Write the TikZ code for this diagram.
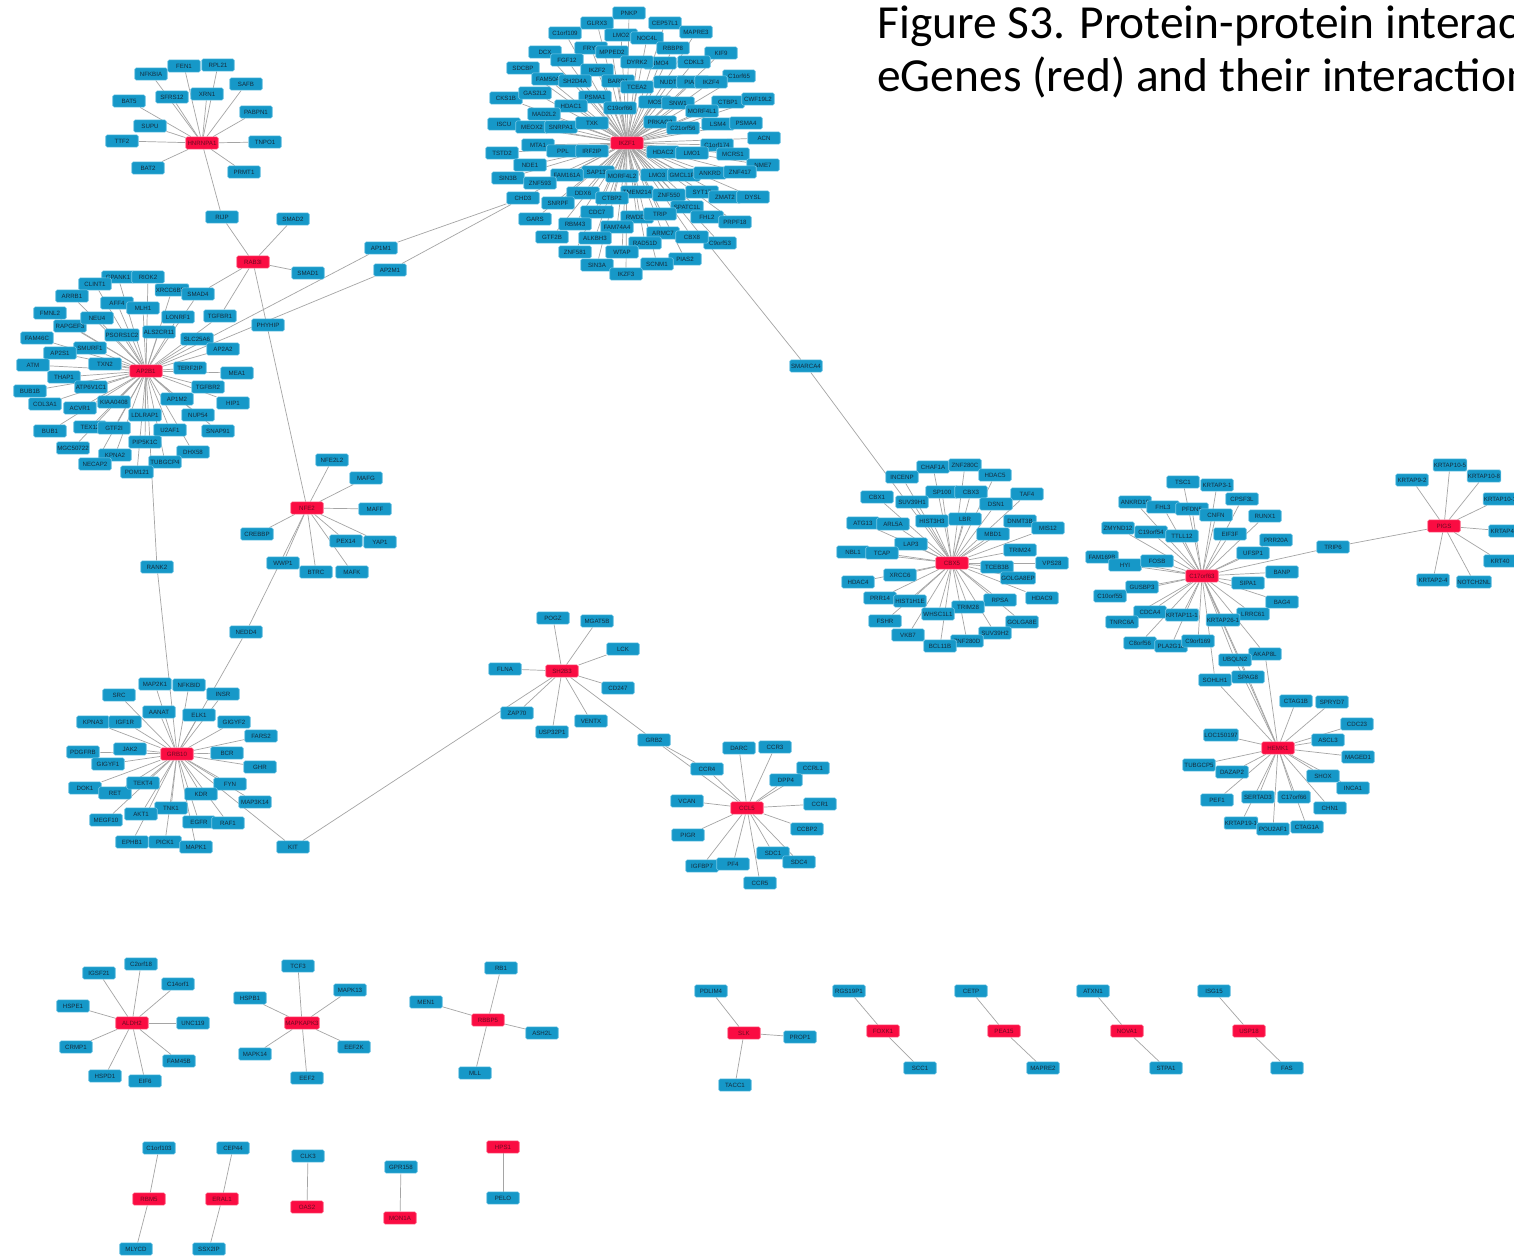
\documentclass[tikz,border=0pt]{standalone}
\usepackage{fontspec}
\setmainfont{Liberation Sans}
\newfontfamily\titlefont{Carlito}
\usetikzlibrary{backgrounds}
\pgfdeclarelayer{paper}
\pgfsetlayers{paper,background,main}

\definecolor{nodeblue}{RGB}{22,152,200}
\definecolor{nodered}{RGB}{250,12,66}
\definecolor{bluerim}{RGB}{120,200,230}
\definecolor{redrim}{RGB}{255,120,150}
\definecolor{bluetext}{RGB}{20,45,62}
\definecolor{redtext}{RGB}{110,10,35}
\definecolor{edgegray}{RGB}{165,165,165}

\tikzset{
  gene/.style={rectangle, rounded corners=0.8pt, minimum width=18.5pt,
    minimum height=7pt, inner sep=0.4pt, line width=0.35pt,
    font=\fontsize{3.5}{3.7}\selectfont},
  bbox/.style={gene, fill=nodeblue, draw=bluerim, text=bluetext},
  rbox/.style={gene, fill=nodered, draw=redrim, text=redtext},
  link/.style={draw=edgegray, line width=0.4pt},
  titletext/.style={anchor=base west, inner sep=0, font=\titlefont\fontsize{27}{31}\selectfont},
}

% blue and red gene boxes, named after their label
\newcommand\gnb[2]{\node[bbox] (#2) at (#1) {#2};}
\newcommand\gnr[2]{\node[rbox] (#2) at (#1) {#2};}
% star of edges from a hub
\newcommand\spokes[2]{\foreach \t in {#2} {\draw[link] (#1) -- (\t);}}

\begin{document}
\begin{tikzpicture}[x=0.02cm,y=-0.02cm]
\useasboundingbox (0,0) rectangle (1514,1258);
\begin{pgfonlayer}{paper}
\fill[white] (0,0) rectangle (1514,1258);
\end{pgfonlayer}

% title
\node[titletext] (t1) at (877,38) {Figure S3. Protein-protein interactions};
\node[titletext] (t2) at (877,91) {eGenes (red) and their interactions};

% HNRNPA1
\gnr{202,143}{HNRNPA1}
\gnb{184,66}{FEN1} \gnb{218,65}{RPL21} \gnb{151,74}{NFKBIA} \gnb{246,84}{SAFB}
\gnb{207,94}{XRN1} \gnb{172,97}{SFRS12} \gnb{129,101}{BAT5} \gnb{256,112}{PABPN1}
\gnb{150,126}{SUPU} \gnb{122,141}{TTF2} \gnb{265,142}{TNPO1} \gnb{148,168}{BAT2}
\gnb{244,172}{PRMT1} \gnb{222,217}{RIJP}

% RAB3I
\gnr{253,262}{RAB3I}
\gnb{293,219}{SMAD2} \gnb{308,273}{SMAD1} \gnb{381,248}{AP1M1} \gnb{390,270}{AP2M1}
\gnb{268,325}{PHYHIP}

% AP2B1
\gnr{146,371}{AP2B1}
\gnb{118,277}{GPANK1} \gnb{148,277}{RIOK2} \gnb{95,284}{CLINT1} \gnb{172,290}{XRCC6BP1}
\gnb{198,294}{SMAD4} \gnb{72,296}{ARRB1} \gnb{117,303}{AFF4} \gnb{143,308}{MLH1}
\gnb{50,313}{FMNL2} \gnb{178,317}{LONRF1} \gnb{220,316}{TGFBR1} \gnb{70,326}{RAPGEF3}
\gnb{97,318}{NEU4} \gnb{122,335}{PSORS1C2} \gnb{159,332}{ALS2CR11} \gnb{37,338}{FAM46C}
\gnb{90,348}{SMURF1} \gnb{197,339}{SLC25A6} \gnb{223,349}{AP2A2} \gnb{60,353}{AP2S1}
\gnb{33,365}{ATM} \gnb{105,364}{TXN2} \gnb{190,368}{TERF2IP} \gnb{237,373}{MEA1}
\gnb{64,377}{THAP1} \gnb{91,387}{ATP6V1C1} \gnb{208,387}{TGFBR2} \gnb{30,391}{BUB1B}
\gnb{45,404}{COL3A1} \gnb{80,408}{ACVR1} \gnb{114,402}{KIAA0408} \gnb{177,399}{AP1M2}
\gnb{233,403}{HIP1} \gnb{145,415}{LDLRAP1} \gnb{198,415}{NUP54} \gnb{90,427}{TEX12}
\gnb{50,431}{BUB1} \gnb{114,428}{GTF2I} \gnb{170,430}{U2AF1} \gnb{218,431}{SNAP91}
\gnb{145,442}{PIP5K1C} \gnb{73,448}{MGC50722} \gnb{193,452}{DHX58} \gnb{115,455}{KPNA2}
\gnb{165,462}{TUBGCP4} \gnb{95,464}{NECAP2} \gnb{137,472}{POM121}
\gnb{157,567}{RANK2}

% IKZF1
\gnr{627,143}{IKZF1}
\gnb{629,13}{PNKP} \gnb{597,23}{GLRX3} \gnb{665,23}{CEP57L1} \gnb{696,32}{MAPRE3}
\gnb{565,33}{C1orf109} \gnb{621,35}{LMO2} \gnb{647,38}{NOC4L} \gnb{591,48}{FRYL}
\gnb{673,48}{RBBP8} \gnb{612,52}{MPPED2} \gnb{721,53}{KIF9} \gnb{545,52}{DCX}
\gnb{567,60}{FGF12} \gnb{660,63}{NMO4} \gnb{637,62}{DYRK2} \gnb{694,62}{CDKL3}
\gnb{523,68}{SDCBP} \gnb{597,70}{IKZF2} \gnb{739,76}{C1orf65} \gnb{548,79}{FAM50A}
\gnb{575,81}{SH2D4A} \gnb{618,81}{BARD1} \gnb{670,82}{NUDT9} \gnb{693,82}{PIAS1}
\gnb{711,82}{IKZF4} \gnb{637,87}{TCEA2} \gnb{506,98}{CKS1B} \gnb{535,93}{GAS2L2}
\gnb{595,97}{PSMA1} \gnb{571,106}{HDAC1} \gnb{655,102}{MOS} \gnb{678,103}{SNW1}
\gnb{728,102}{CTBP1} \gnb{758,99}{CWF19L2} \gnb{544,114}{MAD2L2} \gnb{620,108}{C19orf66}
\gnb{702,111}{MORF4L1} \gnb{504,124}{ISCU} \gnb{532,127}{MEOX2} \gnb{561,127}{SNRPA1}
\gnb{592,123}{TXK} \gnb{660,122}{PRKAG2} \gnb{683,128}{C21orf56} \gnb{718,124}{LSM4}
\gnb{746,123}{PSMA4} \gnb{764,138}{ACN}
\gnb{538,145}{MTA1} \gnb{502,153}{TSTD2} \gnb{563,151}{PPL} \gnb{592,151}{IRF2IP}
\gnb{663,152}{HDAC2} \gnb{717,145}{C1orf174} \gnb{692,153}{LMO1} \gnb{733,154}{MCRS1}
\gnb{530,165}{NDE1} \gnb{763,165}{NME7} \gnb{598,172}{SAP130} \gnb{567,175}{FAM161A}
\gnb{622,176}{MORF4L2} \gnb{657,175}{LMO3} \gnb{684,175}{GMCL1P1} \gnb{710,173}{ANKRD}
\gnb{740,172}{ZNF417} \gnb{508,178}{SIN3B} \gnb{540,183}{ZNF593} \gnb{523,198}{CHD3}
\gnb{583,193}{DDX6} \gnb{637,192}{TMEM214} \gnb{612,198}{CTBP2} \gnb{669,195}{ZNF550}
\gnb{702,192}{SYT17} \gnb{725,197}{ZMAT2} \gnb{753,197}{DYSL} \gnb{558,203}{SNRPF}
\gnb{687,207}{SPATC1L} \gnb{597,212}{CDC7} \gnb{637,217}{RWDD1} \gnb{660,214}{TRIP}
\gnb{707,217}{FHL2} \gnb{735,222}{PRPF18} \gnb{535,219}{GARS} \gnb{575,224}{RBM43}
\gnb{617,227}{FAM74A4} \gnb{720,243}{C9orf53} \gnb{663,233}{ARMC7} \gnb{692,237}{CBX8}
\gnb{552,237}{GTF2B} \gnb{595,238}{ALKBH3} \gnb{645,243}{RAD51D} \gnb{575,252}{ZNF581}
\gnb{622,252}{WTAP} \gnb{685,259}{PIAS2} \gnb{597,265}{SIN3A} \gnb{657,264}{SCNM1}
\gnb{626,274}{IKZF3}
\gnb{806,366}{SMARCA4}

% NFE2
\gnr{307,508}{NFE2}
\gnb{332,460}{NFE2L2} \gnb{366,478}{MAFG} \gnb{375,509}{MAFF} \gnb{257,534}{CREBBP}
\gnb{346,541}{PEX14} \gnb{380,542}{YAP1} \gnb{283,563}{WWP1} \gnb{316,572}{BTRC}
\gnb{352,572}{MAFK} \gnb{246,632}{NEDD4}

% GRB10
\gnr{177,754}{GRB10}
\gnb{155,684}{MAP2K1} \gnb{189,685}{NFKBID} \gnb{119,695}{SRC} \gnb{223,694}{INSR}
\gnb{159,712}{AANAT} \gnb{199,715}{ELK1} \gnb{93,722}{KPNA3} \gnb{125,722}{IGF1R}
\gnb{234,722}{GIGYF2} \gnb{261,736}{FARS2} \gnb{130,749}{JAK2} \gnb{83,752}{PDGFRB}
\gnb{227,753}{BCR} \gnb{108,764}{GIGYF1} \gnb{260,767}{GHR} \gnb{85,788}{DOK1}
\gnb{115,793}{RET} \gnb{143,783}{TEKT4} \gnb{230,784}{FYN} \gnb{201,794}{KDR}
\gnb{255,802}{MAP3K14} \gnb{171,808}{TNK1} \gnb{141,814}{AKT1} \gnb{106,820}{MEGF10}
\gnb{199,822}{EGFR} \gnb{228,823}{RAF1} \gnb{132,842}{EPHB1} \gnb{165,842}{PICK1}
\gnb{196,847}{MAPK1} \gnb{293,847}{KIT}

% SH2B3
\gnr{562,671}{SH2B3}
\gnb{553,618}{POGZ} \gnb{597,621}{MGAT5B} \gnb{623,649}{LCK} \gnb{505,669}{FLNA}
\gnb{618,688}{CD247} \gnb{517,713}{ZAP70} \gnb{591,721}{VENTX} \gnb{552,732}{USP32P1}
\gnb{654,740}{GRB2}

% CCL5
\gnr{747,808}{CCL5}
\gnb{739,748}{DARC} \gnb{775,747}{CCR3} \gnb{813,768}{CCRL1} \gnb{707,769}{CCR4}
\gnb{786,780}{DPP4} \gnb{687,801}{VCAN} \gnb{820,804}{CCR1} \gnb{807,829}{CCBP2}
\gnb{688,835}{PIGR} \gnb{773,853}{SDC1} \gnb{799,862}{SDC4} \gnb{702,866}{IGFBP7}
\gnb{733,864}{PF4} \gnb{760,883}{CCR5}

% CBX5
\gnr{952,563}{CBX5}
\gnb{933,467}{CHAF1A} \gnb{965,465}{ZNF280C} \gnb{902,477}{INCENP} \gnb{995,475}{HDAC5}
\gnb{877,497}{CBX1} \gnb{942,492}{SP100} \gnb{971,492}{CBX3} \gnb{912,502}{SUV39H1}
\gnb{1027,494}{TAF4} \gnb{996,504}{DSN1} \gnb{863,523}{ATG13} \gnb{893,524}{ARL5A}
\gnb{932,521}{HIST3H3} \gnb{965,519}{LBR} \gnb{1020,521}{DNMT3B} \gnb{1048,528}{MIS12}
\gnb{993,534}{MBD1} \gnb{911,544}{LAP3} \gnb{1020,550}{TRIM24} \gnb{853,552}{NBL1}
\gnb{882,553}{TCAP} \gnb{997,567}{TCEB3B} \gnb{1052,563}{VPS28} \gnb{900,575}{XRCC6}
\gnb{1018,578}{GOLGA8EP} \gnb{858,582}{HDAC4} \gnb{880,598}{PRR14} \gnb{910,601}{HIST1H1E}
\gnb{1000,600}{RPSA} \gnb{1042,598}{HDAC9} \gnb{968,607}{TRIM28} \gnb{938,614}{WHSC1L1}
\gnb{885,621}{FSHR} \gnb{1022,622}{GOLGA8E} \gnb{995,633}{SUV39H2} \gnb{908,635}{VKB7}
\gnb{967,641}{ZNF280D} \gnb{940,646}{BCL11B}

% C17orf63
\gnr{1202,576}{C17orf63}
\gnb{1183,482}{TSC1} \gnb{1217,485}{KRTAP3-1} \gnb{1242,499}{CPSF3L} \gnb{1135,502}{ANKRD10}
\gnb{1163,507}{FHL3} \gnb{1192,509}{PFDN5} \gnb{1216,515}{CNFN} \gnb{1265,516}{RUNX1}
\gnb{1118,528}{ZMYND12} \gnb{1151,532}{C19orf54} \gnb{1182,536}{TTLL12} \gnb{1230,534}{EIF3F}
\gnb{1276,540}{PRR20A} \gnb{1253,553}{UFSP1} \gnb{1102,557}{FAM169B} \gnb{1125,565}{HYI}
\gnb{1157,561}{FOSB} \gnb{1282,572}{BANP} \gnb{1248,583}{SIPA1} \gnb{1142,587}{GUSBP3}
\gnb{1110,596}{C10orf55} \gnb{1282,602}{BAG4} \gnb{1150,612}{CDCA4} \gnb{1253,614}{LRRC61}
\gnb{1122,622}{TNRC6A} \gnb{1182,615}{KRTAP11-1} \gnb{1223,620}{KRTAP26-1} \gnb{1140,643}{C8orf56}
\gnb{1171,646}{PLA2G16} \gnb{1198,641}{C9orf169} \gnb{1265,654}{AKAP8L} \gnb{1235,660}{UBQLN2}
\gnb{1215,680}{SOHLH1} \gnb{1248,677}{SPAG8}
\gnb{1333,547}{TRIP6}

% PIGS
\gnr{1444,526}{PIGS}
\gnb{1412,480}{KRTAP9-2} \gnb{1450,465}{KRTAP10-5} \gnb{1484,476}{KRTAP10-8}
\gnb{1500,499}{KRTAP10-1} \gnb{1505,531}{KRTAP4-1} \gnb{1500,561}{KRT40}
\gnb{1433,580}{KRTAP2-4} \gnb{1474,582}{NOTCH2NL}

% HEMK1
\gnr{1278,748}{HEMK1}
\gnb{1296,701}{CTAG1B} \gnb{1332,702}{SPRYD7} \gnb{1357,724}{CDC23} \gnb{1221,735}{LOC150197}
\gnb{1328,740}{ASCL3} \gnb{1358,757}{MAGED1} \gnb{1199,765}{TUBGCP5} \gnb{1232,772}{DAZAP2}
\gnb{1323,776}{SHOX} \gnb{1353,788}{INCA1} \gnb{1217,800}{PEF1} \gnb{1258,797}{SERTAD3}
\gnb{1294,797}{C17orf66} \gnb{1330,808}{CHN1} \gnb{1241,823}{KRTAP19-1} \gnb{1273,829}{POU2AF1}
\gnb{1307,827}{CTAG1A}

% ALDH2
\gnr{132,1023}{ALDH2}
\gnb{141,964}{C2orf18} \gnb{99,973}{IGSF21} \gnb{178,984}{C14orf1} \gnb{73,1006}{HSPE1}
\gnb{193,1023}{UNC119} \gnb{76,1047}{CRMP1} \gnb{179,1061}{FAM45B} \gnb{105,1076}{HSPD1}
\gnb{145,1081}{EIF6}

% MAPKAPK3
\gnr{302,1023}{MAPKAPK3}
\gnb{298,966}{TCF3} \gnb{250,998}{HSPB1} \gnb{350,990}{MAPK13} \gnb{255,1054}{MAPK14}
\gnb{354,1047}{EEF2K} \gnb{307,1078}{EEF2}

% RBBP5
\gnr{488,1020}{RBBP5}
\gnb{501,968}{RB1} \gnb{426,1002}{MEN1} \gnb{542,1033}{ASH2L} \gnb{475,1073}{MLL}

% small groups, bottom right
\gnb{711,991}{PDLIM4} \gnr{744,1033}{SLK} \gnb{800,1037}{PROP1} \gnb{735,1085}{TACC1}
\gnb{849,991}{RGS19P1} \gnr{883,1031}{FOXK1} \gnb{920,1068}{SCC1}
\gnb{971,991}{CETP} \gnr{1004,1031}{PEA15} \gnb{1043,1068}{MAPRE2}
\gnb{1093,991}{ATXN1} \gnr{1127,1031}{NOVA1} \gnb{1166,1068}{STPA1}
\gnb{1214,991}{ISG15} \gnr{1249,1031}{USP18} \gnb{1287,1068}{FAS}

% pairs, bottom
\gnb{159,1148}{C1orf103} \gnr{149,1199}{RBM5} \gnb{136,1249}{MLYCD}
\gnb{233,1148}{CEP44} \gnr{222,1199}{ERAL1} \gnb{209,1249}{SSX2IP}
\gnb{308,1156}{CLK3} \gnr{307,1207}{OAS2}
\gnb{401,1167}{GPR158} \gnr{400,1218}{MON1A}
\gnr{503,1147}{HPS1} \gnb{503,1198}{PELO}

\begin{scope}[on background layer]
\spokes{HNRNPA1}{FEN1,RPL21,NFKBIA,SAFB,XRN1,SFRS12,BAT5,PABPN1,SUPU,TTF2,TNPO1,BAT2,PRMT1,RIJP}
\spokes{RAB3I}{RIJP,SMAD2,SMAD1,SMAD4,TGFBR1,NFE2}
\spokes{AP2B1}{GPANK1,RIOK2,CLINT1,XRCC6BP1,SMAD4,ARRB1,AFF4,MLH1,FMNL2,LONRF1,TGFBR1,RAPGEF3,
  NEU4,PSORS1C2,ALS2CR11,FAM46C,SMURF1,SLC25A6,AP2A2,AP2S1,ATM,TXN2,TERF2IP,MEA1,THAP1,
  ATP6V1C1,TGFBR2,BUB1B,COL3A1,ACVR1,KIAA0408,AP1M2,HIP1,LDLRAP1,NUP54,TEX12,BUB1,GTF2I,
  U2AF1,SNAP91,PIP5K1C,MGC50722,DHX58,KPNA2,TUBGCP4,NECAP2,POM121,RANK2,AP1M1,AP2M1}
\spokes{CHD3}{AP1M1,AP2M1}
\spokes{IKZF1}{PNKP,GLRX3,CEP57L1,MAPRE3,C1orf109,LMO2,NOC4L,FRYL,RBBP8,MPPED2,KIF9,DCX,
  FGF12,NMO4,DYRK2,CDKL3,SDCBP,IKZF2,C1orf65,FAM50A,SH2D4A,BARD1,NUDT9,PIAS1,IKZF4,TCEA2,
  CKS1B,GAS2L2,PSMA1,HDAC1,MOS,SNW1,CTBP1,CWF19L2,MAD2L2,C19orf66,MORF4L1,ISCU,MEOX2,
  SNRPA1,TXK,PRKAG2,C21orf56,LSM4,PSMA4,ACN,MTA1,TSTD2,PPL,IRF2IP,HDAC2,C1orf174,LMO1,
  MCRS1,NDE1,NME7,SAP130,FAM161A,MORF4L2,LMO3,GMCL1P1,ANKRD,ZNF417,SIN3B,ZNF593,CHD3,
  DDX6,TMEM214,CTBP2,ZNF550,SYT17,ZMAT2,DYSL,SNRPF,SPATC1L,CDC7,RWDD1,TRIP,FHL2,PRPF18,
  GARS,RBM43,FAM74A4,C9orf53,ARMC7,CBX8,GTF2B,ALKBH3,RAD51D,ZNF581,WTAP,PIAS2,SIN3A,
  SCNM1,IKZF3,SMARCA4}
\draw[link] (SMARCA4) -- (CBX5);
\spokes{NFE2}{NFE2L2,MAFG,MAFF,CREBBP,PEX14,YAP1,WWP1,BTRC,MAFK,NEDD4}
\draw[link] (RANK2) -- (GRB10);
\draw[link] (NEDD4) -- (GRB10);
\spokes{GRB10}{MAP2K1,NFKBID,SRC,INSR,AANAT,ELK1,KPNA3,IGF1R,GIGYF2,FARS2,JAK2,PDGFRB,
  BCR,GIGYF1,GHR,DOK1,RET,TEKT4,FYN,KDR,MAP3K14,TNK1,AKT1,MEGF10,EGFR,RAF1,EPHB1,PICK1,
  MAPK1,KIT}
\draw[link] (KIT) -- (SH2B3);
\spokes{SH2B3}{POGZ,MGAT5B,LCK,FLNA,CD247,ZAP70,VENTX,USP32P1,GRB2}
\draw[link] (GRB2) -- (CCR4);
\spokes{CCL5}{DARC,CCR3,CCRL1,CCR4,DPP4,VCAN,CCR1,CCBP2,PIGR,SDC1,SDC4,IGFBP7,PF4,CCR5,GRB2}
\spokes{CBX5}{CHAF1A,ZNF280C,INCENP,HDAC5,CBX1,SP100,CBX3,SUV39H1,TAF4,DSN1,ATG13,ARL5A,
  HIST3H3,LBR,DNMT3B,MIS12,MBD1,LAP3,TRIM24,NBL1,TCAP,TCEB3B,VPS28,XRCC6,GOLGA8EP,HDAC4,
  PRR14,HIST1H1E,RPSA,HDAC9,TRIM28,WHSC1L1,FSHR,GOLGA8E,SUV39H2,VKB7,ZNF280D,BCL11B}
\spokes{C17orf63}{TSC1,KRTAP3-1,CPSF3L,ANKRD10,FHL3,PFDN5,CNFN,RUNX1,ZMYND12,C19orf54,
  TTLL12,EIF3F,PRR20A,UFSP1,FAM169B,HYI,FOSB,BANP,SIPA1,GUSBP3,C10orf55,BAG4,CDCA4,LRRC61,
  TNRC6A,KRTAP11-1,KRTAP26-1,C8orf56,PLA2G16,C9orf169,AKAP8L,UBQLN2,SOHLH1,SPAG8,TRIP6,HEMK1}
\draw[link] (TRIP6) -- (PIGS);
\spokes{PIGS}{KRTAP9-2,KRTAP10-5,KRTAP10-8,KRTAP10-1,KRTAP4-1,KRT40,KRTAP2-4,NOTCH2NL}
\spokes{HEMK1}{AKAP8L,UBQLN2,SPAG8,SOHLH1,CTAG1B,SPRYD7,CDC23,LOC150197,ASCL3,MAGED1,
  TUBGCP5,DAZAP2,SHOX,INCA1,PEF1,SERTAD3,C17orf66,CHN1,KRTAP19-1,POU2AF1,CTAG1A}
\spokes{ALDH2}{C2orf18,IGSF21,C14orf1,HSPE1,UNC119,CRMP1,FAM45B,HSPD1,EIF6}
\spokes{MAPKAPK3}{TCF3,HSPB1,MAPK13,MAPK14,EEF2K,EEF2}
\spokes{RBBP5}{RB1,MEN1,ASH2L,MLL}
\spokes{SLK}{PDLIM4,PROP1,TACC1}
\spokes{FOXK1}{RGS19P1,SCC1}
\spokes{PEA15}{CETP,MAPRE2}
\spokes{NOVA1}{ATXN1,STPA1}
\spokes{USP18}{ISG15,FAS}
\spokes{RBM5}{C1orf103,MLYCD}
\spokes{ERAL1}{CEP44,SSX2IP}
\draw[link] (CLK3) -- (OAS2);
\draw[link] (GPR158) -- (MON1A);
\draw[link] (HPS1) -- (PELO);
\end{scope}
\end{tikzpicture}
\end{document}
